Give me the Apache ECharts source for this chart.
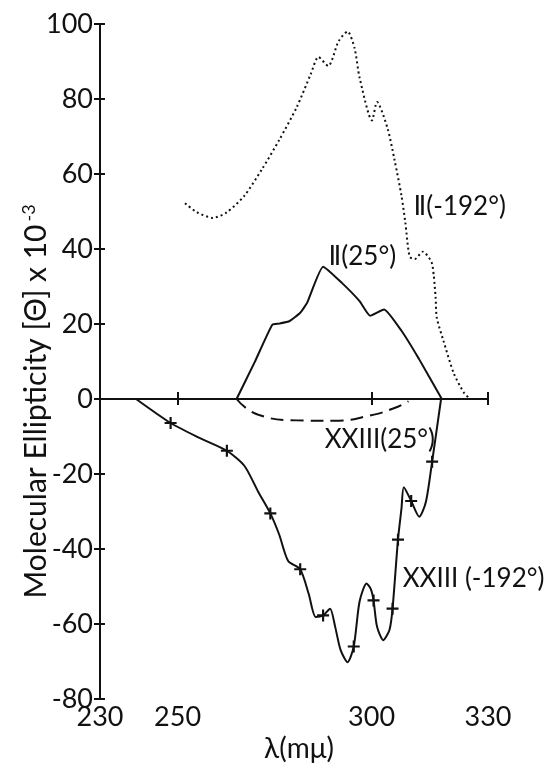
<!DOCTYPE html>
<html>
<head>
<meta charset="utf-8">
<script src="https://cdn.jsdelivr.net/npm/echarts@6/dist/echarts.min.js"></script>
<style>
  html, body { margin: 0; padding: 0; background: #fff; }
  #chart { width: 547px; height: 768px; }
</style>
</head>
<body>
<div id="chart"></div>
<script>
// Wavelength (mμ) / ellipticity (x10^-3)

// II at -192° (dotted)
const wlIIcold = [251.9, 255.0, 259.1, 262.7, 267.2, 271.7, 276.2, 280.7, 284.3, 286.3, 288.8, 291.5, 293.8, 295.6, 296.9, 300.1, 301.4, 304.1, 305.9, 307.7, 308.7, 309.8, 311.1, 313.2, 315.4, 316.0, 316.5, 316.8, 318.5, 321.2, 323.9, 325.3]
const elIIcold = [52.2, 49.8, 48.3, 49.8, 54.2, 61.2, 69.1, 77.8, 86.6, 91.2, 88.8, 95.4, 98.0, 93.6, 85.7, 74.3, 79.2, 72.2, 63.8, 54.2, 47.0, 38.0, 37.3, 39.3, 36.6, 33.1, 27.0, 21.7, 15.6, 6.8, 1.5, 0.2]

// II at 25° (solid)
const wlIIroom = [265.2, 269.9, 274.4, 276.2, 278.9, 281.6, 283.4, 287.5, 292.4, 296.9, 299.6, 303.2, 307.7, 312.2, 318.1]
const elIIroom = [0, 9.9, 19.8, 20.1, 20.8, 23.0, 25.7, 35.3, 30.9, 26.1, 22.2, 23.9, 18.2, 10.7, 0]

// XXIII at 25° (dashed)
const wlXXIIIroom = [265.2, 270.8, 280.7, 290.3, 299.6, 305.9, 309.5]
const elXXIIIroom = [0, -4.2, -5.7, -5.8, -4.4, -2.4, -0.6]

// XXIII at -192° (solid with crosses)
const wlXXIIIcold = [239.3, 248.2, 255.5, 262.7, 267.2, 270.8, 273.9, 276.2, 278.5, 281.6, 283.8, 285.6, 287.5, 289.3, 290.6, 292.0, 293.8, 295.4, 296.9, 298.7, 299.8, 300.5, 301.4, 303.0, 304.6, 305.4, 306.8, 307.7, 308.3, 310.2, 312.3, 314.0, 315.6, 317.9]
const elXXIIIcold = [0, -6.4, -10.3, -13.8, -17.8, -24.8, -30.5, -36.2, -43.2, -45.4, -52.0, -58.1, -57.7, -55.9, -60.7, -66.9, -70.2, -66.0, -54.0, -49.2, -50.7, -53.7, -60.7, -64.3, -61.6, -55.9, -37.5, -29.2, -23.5, -27.2, -31.4, -27.4, -16.7, 0]

// measured points marked with "+"
const crossWl = [248.2, 262.7, 273.9, 281.6, 287.5, 295.4, 300.5, 305.4, 306.8, 310.2, 315.6]
const crossEl = [-6.4, -13.8, -30.5, -45.4, -57.7, -66.0, -53.7, -55.9, -37.5, -27.2, -16.7]

// curve labels, anchored at their left edge
const labelText = ['Ⅱ(-192°)', 'Ⅱ(25°)', 'XXIII(25°)', 'XXIII (-192°)']
const labelWl = [310.8, 288.9, 287.9, 308.0]
const labelEl = [51.2, 38.0, -10.9, -47.8]

const xTicks = [230, 250, 300, 330]

const zip = (xs, ys) => xs.map((x, i) => [x, ys[i]])

const ink = '#111'
const font = 'Lato, "DejaVu Sans", sans-serif'

const chart = echarts.init(document.getElementById('chart'))

const xBase = {
    type: 'value', min: 230, max: 330, interval: 10,
    splitLine: { show: false },
    axisLine: { lineStyle: { color: ink, width: 2 } },
}
const yBase = {
    type: 'value', min: -80, max: 100, interval: 20,
    splitLine: { show: false },
    axisLine: { lineStyle: { color: ink, width: 2 } },
}

chart.setOption({
    animation: false,
    backgroundColor: '#fff',
    textStyle: { fontFamily: font, color: ink },
    grid: { left: 100, right: 59, top: 24, bottom: 60 },
    xAxis: [
        {
            ...xBase,
            name: 'λ(mμ)',
            nameLocation: 'middle',
            nameGap: 36,
            nameMoveOverlap: false,
            nameTextStyle: { fontSize: 28, color: ink, fontFamily: font, padding: [0, 0, 0, 10] },
            axisTick: { inside: true, length: 7, customValues: xTicks, lineStyle: { color: ink, width: 2 } },
            axisLabel: { customValues: xTicks, fontSize: 27, color: ink, margin: 5 },
        },
        {
            ...xBase,
            position: 'bottom',
            axisLine: { show: false },
            axisTick: { inside: false, length: 6, customValues: xTicks, lineStyle: { color: ink, width: 2 } },
            axisLabel: { show: false },
        },
    ],
    yAxis: [
        {
            ...yBase,
            name: '{t|Molecular Ellipticity [Θ] x 10}{sup|-3}',
            nameLocation: 'middle',
            nameGap: 48,
            nameMoveOverlap: false,
            nameTextStyle: {
                color: ink, fontFamily: font,
                padding: [0, 80, 0, 0],
                rich: {
                    t: { fontSize: 30, fontFamily: font, color: ink },
                    sup: { fontSize: 18, padding: [0, 0, 14, 3], fontFamily: font, color: ink },
                },
            },
            axisTick: { inside: false, length: 6, lineStyle: { color: ink, width: 2 } },
            axisLabel: { fontSize: 27, color: ink, margin: 7 },
        },
        {
            ...yBase,
            position: 'left',
            axisLine: { show: false },
            axisTick: { inside: true, length: 5, lineStyle: { color: ink, width: 2 } },
            axisLabel: { show: false },
        },
    ],
    series: [
        {
            name: 'II (-192°)', type: 'line', data: zip(wlIIcold, elIIcold),
            showSymbol: false, smooth: 0.25,
            lineStyle: { color: ink, width: 2, type: [2, 3] },
        },
        {
            name: 'II (25°)', type: 'line', data: zip(wlIIroom, elIIroom),
            showSymbol: false, smooth: 0.15,
            lineStyle: { color: ink, width: 2 },
            markLine: {
                silent: true, symbol: 'none', label: { show: false },
                lineStyle: { color: ink, width: 2, type: 'solid' },
                data: [{ yAxis: 0 }],
            },
        },
        {
            name: 'XXIII (25°)', type: 'line', data: zip(wlXXIIIroom, elXXIIIroom),
            showSymbol: false, smooth: 0.5,
            lineStyle: { color: ink, width: 2, type: [13, 7] },
        },
        {
            name: 'XXIII (-192°)', type: 'line', data: zip(wlXXIIIcold, elXXIIIcold),
            showSymbol: false, smooth: 0.25,
            lineStyle: { color: ink, width: 2 },
        },
        {
            name: 'points', type: 'scatter', data: zip(crossWl, crossEl),
            symbol: 'path://M0,4.1h10v1.8h-10z M4.1,0h1.8v10h-1.8z',
            symbolSize: 12,
            itemStyle: { color: ink, opacity: 1 },
        },
        {
            name: 'labels', type: 'scatter',
            data: labelText.map((t, i) => ({ value: [labelWl[i], labelEl[i]], name: t })),
            symbolSize: 0,
            itemStyle: { opacity: 1 },
            label: {
                show: true, position: 'right', distance: 0,
                formatter: p => p.name,
                fontSize: 26, color: ink, fontFamily: font,
            },
        },
    ],
})
</script>
</body>
</html>
